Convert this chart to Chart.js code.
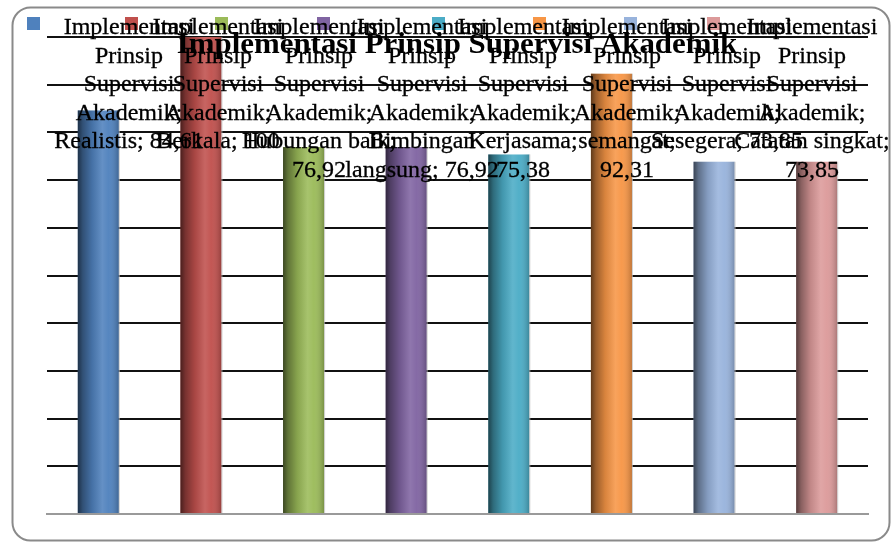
<!DOCTYPE html>
<html>
<head>
<meta charset="utf-8">
<script src="https://cdn.jsdelivr.net/npm/chart.js@4.4.1/dist/chart.umd.min.js"></script>
<style>
  html, body { margin: 0; padding: 0; background: #ffffff; }
  #wrap { width: 891px; height: 543px; position: relative; }
</style>
</head>
<body>
<div id="wrap"><canvas id="c"></canvas></div>
<script>
// ---- data ----
const seriesName = "Implementasi Prinsip Supervisi Akademik";
const categories = ["Realistis", "Berkala", "Hubungan baik", "Bimbingan langsung", "Kerjasama", "semangat", "Sesegera", "Catatan singkat"];
const values = [84.61, 100, 76.92, 76.92, 75.38, 92.31, 73.85, 73.85];
const yTicks = [0, 10, 20, 30, 40, 50, 60, 70, 80, 90, 100];
const colors = ["#4F81BD", "#C0504D", "#9BBB59", "#8064A2", "#4BACC6", "#F79646", "#98B3DC", "#DC9A9A"];

// ---- layout / style (not data) ----
const legendLayout = {
  squareX: [27, 125, 215, 317, 432, 533, 624, 707],
  squareY: 17, squareSize: 13,
  centerX: [129, 218, 319, 422, 523, 627, 727, 812],
  firstBaseline: 34, lineStep: 28.6,
  fontSize: 24, scaleX: 1.0, wrapEm: 6.51
};
const titleLayout = { cx: 457, baseline: 53, fontSize: 30, scaleX: 1.03 };
const FONT = '"Liberation Serif"';

function fmt(v) { return String(v).replace('.', ','); }

function wrapText(ctx, text, maxW) {
  const words = text.split(' ');
  const lines = [];
  let cur = '';
  words.forEach(w => {
    const test = cur ? cur + ' ' + w : w;
    if (cur && ctx.measureText(test).width > maxW) { lines.push(cur); cur = w; }
    else cur = test;
  });
  if (cur) lines.push(cur);
  return lines;
}

function drawStretched(ctx, text, cx, y, sx, strokeW) {
  ctx.save();
  ctx.translate(cx, y);
  ctx.scale(sx, 1);
  ctx.fillText(text, 0, 0);
  if (strokeW) { ctx.lineWidth = strokeW; ctx.strokeText(text, 0, 0); }
  ctx.restore();
}

const framePlugin = {
  id: 'frame',
  beforeDraw(chart) {
    const ctx = chart.ctx;
    ctx.save();
    ctx.fillStyle = '#ffffff';
    ctx.fillRect(0, 0, chart.width, chart.height);
    ctx.beginPath();
    ctx.roundRect(12.5, 7.5, 877, 533, 18);
    ctx.strokeStyle = '#8a8a8a';
    ctx.lineWidth = 2;
    ctx.stroke();
    ctx.restore();
  }
};

const shadePlugin = {
  id: 'shade',
  afterDatasetsDraw(chart) {
    const ctx = chart.ctx;
    ctx.save();
    chart.data.datasets.forEach((ds, i) => {
      const meta = chart.getDatasetMeta(i);
      meta.data.forEach(bar => {
        const p = bar.getProps(['x', 'y', 'base', 'width'], true);
        const l = p.x - p.width / 2;
        const g = ctx.createLinearGradient(l, 0, l + p.width, 0);
        g.addColorStop(0, 'rgba(0,0,0,0.62)');
        g.addColorStop(0.12, 'rgba(0,0,0,0.38)');
        g.addColorStop(0.35, 'rgba(0,0,0,0.12)');
        g.addColorStop(0.6, 'rgba(255,255,255,0.12)');
        g.addColorStop(0.75, 'rgba(255,255,255,0.04)');
        g.addColorStop(1, 'rgba(0,0,0,0.22)');
        ctx.fillStyle = g;
        ctx.fillRect(l, p.y, p.width, p.base - p.y);
        ctx.fillStyle = 'rgba(190,190,190,0.7)';
        ctx.fillRect(l + p.width, p.y, 1, p.base - p.y);
      });
    });
    ctx.restore();
  }
};

const textPlugin = {
  id: 'texts',
  afterDraw(chart) {
    const ctx = chart.ctx;
    const L = legendLayout;
    ctx.save();
    ctx.font = L.fontSize + 'px ' + FONT;
    ctx.textAlign = 'center';
    ctx.textBaseline = 'alphabetic';
    chart.data.datasets.forEach((ds, i) => {
      ctx.fillStyle = ds.backgroundColor;
      ctx.fillRect(L.squareX[i], L.squareY, L.squareSize, L.squareSize);
    });
    ctx.fillStyle = '#000000';
    ctx.strokeStyle = '#000000';
    chart.data.datasets.forEach((ds, i) => {
      const label = ds.label + '; ' + categories[i] + '; ' + fmt(ds.data[0]);
      const lines = wrapText(ctx, label, L.fontSize * L.wrapEm);
      lines.forEach((ln, k) => {
        drawStretched(ctx, ln, L.centerX[i], L.firstBaseline + k * L.lineStep, L.scaleX, 0.3);
      });
    });
    const T = titleLayout;
    ctx.font = 'bold ' + T.fontSize + 'px ' + FONT;
    drawStretched(ctx, seriesName, T.cx, T.baseline, T.scaleX, 0);
    ctx.restore();
  }
};

const datasets = values.map((v, i) => ({
  label: seriesName,
  data: [v],
  backgroundColor: colors[i],
  borderWidth: 0,
  categoryPercentage: 1.0,
  barPercentage: 0.4
}));

function build() {
  new Chart(document.getElementById('c'), {
    type: 'bar',
    data: { labels: [''], datasets },
    plugins: [framePlugin, shadePlugin, textPlugin],
    options: {
      responsive: true,
      maintainAspectRatio: false,
      animation: false,
      layout: { padding: { left: 47, top: 37, right: 23, bottom: 29 } },
      plugins: { legend: { display: false }, title: { display: false }, tooltip: { enabled: false } },
      scales: {
        x: {
          grid: { display: false, drawTicks: false },
          ticks: { display: false },
          border: { display: true, color: '#9a9a9a', width: 2 }
        },
        y: {
          min: yTicks[0], max: yTicks[yTicks.length - 1],
          afterBuildTicks(scale) { scale.ticks = yTicks.map(v => ({ value: v })); },
          grid: {
            drawTicks: false,
            lineWidth: 2,
            color: c => (c.tick && c.tick.value === 0) ? 'rgba(0,0,0,0)' : '#111111'
          },
          ticks: { display: false },
          border: { display: false }
        }
      }
    }
  });
}

Promise.all([
  document.fonts.load('24px "Liberation Serif"'),
  document.fonts.load('bold 30px "Liberation Serif"')
]).then(build, build);
</script>
</body>
</html>
